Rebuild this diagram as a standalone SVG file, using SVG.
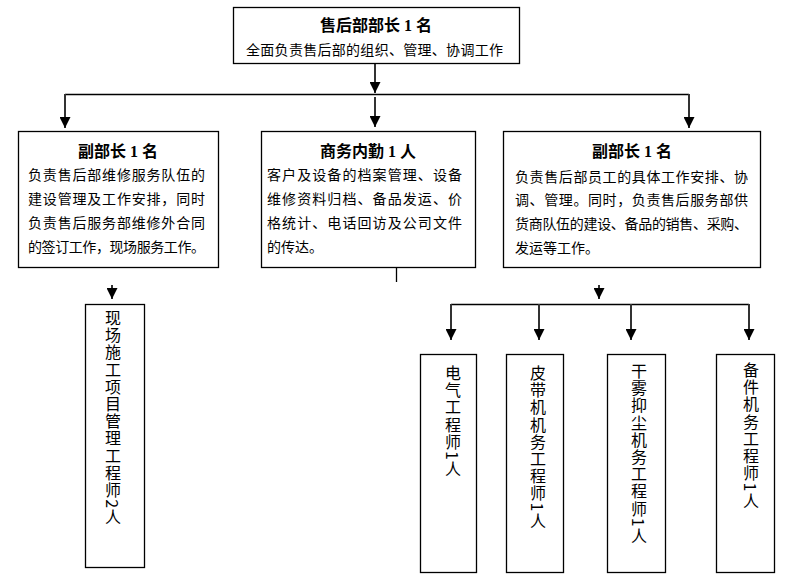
<svg xmlns="http://www.w3.org/2000/svg" width="800" height="579" viewBox="0 0 800 579">
<style>
.box{fill:#fff;stroke:#000;stroke-width:1.3}
.ln{stroke:#000;stroke-width:1.3;fill:none}
.ar{stroke:#333;stroke-width:2;fill:none}
.t{font-family:"Liberation Serif","Noto Sans CJK SC",serif;font-weight:bold;font-size:16px;text-anchor:middle;fill:#000}
.b{font-family:"Noto Sans CJK SC",sans-serif;font-size:14px;fill:#000}
.v{font-family:"Noto Sans CJK SC",sans-serif;font-size:16px;fill:#000;writing-mode:vertical-rl;letter-spacing:1.2px}
</style>
<defs>
<marker id="ah" viewBox="0 0 10 10" refX="10" refY="5" markerWidth="5.5" markerHeight="5.5" orient="auto" markerUnits="strokeWidth">
<path d="M0,0 L10,5 L0,10 z" fill="#000"/>
</marker>
</defs>
<g id="connectors">
<line class="ar" x1="375" y1="63" x2="375" y2="93" marker-end="url(#ah)"/>
<line class="ln" x1="65" y1="94.5" x2="689" y2="94.5"/>
<line class="ar" x1="375" y1="97" x2="375" y2="127" marker-end="url(#ah)"/>
<line class="ar" x1="65" y1="94" x2="65" y2="128" marker-end="url(#ah)"/>
<line class="ar" x1="689" y1="94" x2="689" y2="128" marker-end="url(#ah)"/>
<line class="ln" x1="396.5" y1="262" x2="396.5" y2="282" stroke-width="2"/>
<line class="ar" x1="112" y1="285" x2="112" y2="299" marker-end="url(#ah)"/>
<line class="ar" x1="599" y1="285" x2="599" y2="299" marker-end="url(#ah)"/>
<line class="ln" x1="451" y1="304.5" x2="749" y2="304.5"/>
<line class="ar" x1="451" y1="304" x2="451" y2="340" marker-end="url(#ah)"/>
<line class="ar" x1="539" y1="304" x2="539" y2="340" marker-end="url(#ah)"/>
<line class="ar" x1="631" y1="304" x2="631" y2="340" marker-end="url(#ah)"/>
<line class="ar" x1="749" y1="304" x2="749" y2="340" marker-end="url(#ah)"/>
</g>
<g id="head">
<rect class="box" x="233.5" y="7.5" width="286" height="56"/>
<text class="t" x="376" y="31" font-size="17">售后部部长 1 名</text>
<text class="b" x="246" y="55" textLength="257" lengthAdjust="spacing">全面负责售后部的组织、管理、协调工作</text>
</g>
<g id="deputy1">
<rect class="box" x="18.5" y="131.5" width="200" height="136"/>
<text class="t" x="118" y="157">副部长 1 名</text>
<text class="b" x="28" y="180" textLength="177" lengthAdjust="spacing">负责售后部维修服务队伍的</text>
<text class="b" x="28" y="204" textLength="177" lengthAdjust="spacing">建设管理及工作安排，同时</text>
<text class="b" x="28" y="228" textLength="177" lengthAdjust="spacing">负责售后服务部维修外合同</text>
<text class="b" x="28" y="252" textLength="177" lengthAdjust="spacing">的签订工作，现场服务工作。</text>
</g>
<g id="business">
<rect class="box" x="261.5" y="131.5" width="214" height="136"/>
<text class="t" x="368" y="157">商务内勤 1 人</text>
<text class="b" x="267" y="180" textLength="195" lengthAdjust="spacing">客户及设备的档案管理、设备</text>
<text class="b" x="267" y="204" textLength="195" lengthAdjust="spacing">维修资料归档、备品发运、价</text>
<text class="b" x="267" y="228" textLength="195" lengthAdjust="spacing">格统计、电话回访及公司文件</text>
<text class="b" x="267" y="252">的传达。</text>
</g>
<g id="deputy2">
<rect class="box" x="503.5" y="131.5" width="257" height="136"/>
<text class="t" x="632" y="157">副部长 1 名</text>
<text class="b" x="515" y="182" textLength="233" lengthAdjust="spacing">负责售后部员工的具体工作安排、协</text>
<text class="b" x="515" y="205" textLength="233" lengthAdjust="spacing">调、管理。同时，负责售后服务部供</text>
<text class="b" x="515" y="229" textLength="233" lengthAdjust="spacing">货商队伍的建设、备品的销售、采购、</text>
<text class="b" x="515" y="253">发运等工作。</text>
</g>
<g id="site">
<rect class="box" x="85.5" y="304.5" width="59" height="263"/>
<text class="v" x="113" y="310">现场施工项目管理工程师2人</text>
</g>
<g id="elec">
<rect class="box" x="420.5" y="354.5" width="56" height="218"/>
<text class="v" x="453" y="365">电气工程师1人</text>
</g>
<g id="belt">
<rect class="box" x="506.5" y="354.5" width="57" height="218"/>
<text class="v" x="538" y="365">皮带机机务工程师1人</text>
</g>
<g id="fog">
<rect class="box" x="607.5" y="354.5" width="58" height="218"/>
<text class="v" x="639" y="363">干雾抑尘机务工程师1人</text>
</g>
<g id="spare">
<rect class="box" x="716.5" y="354.5" width="58" height="218"/>
<text class="v" x="751" y="362">备件机务工程师1人</text>
</g>
</svg>
